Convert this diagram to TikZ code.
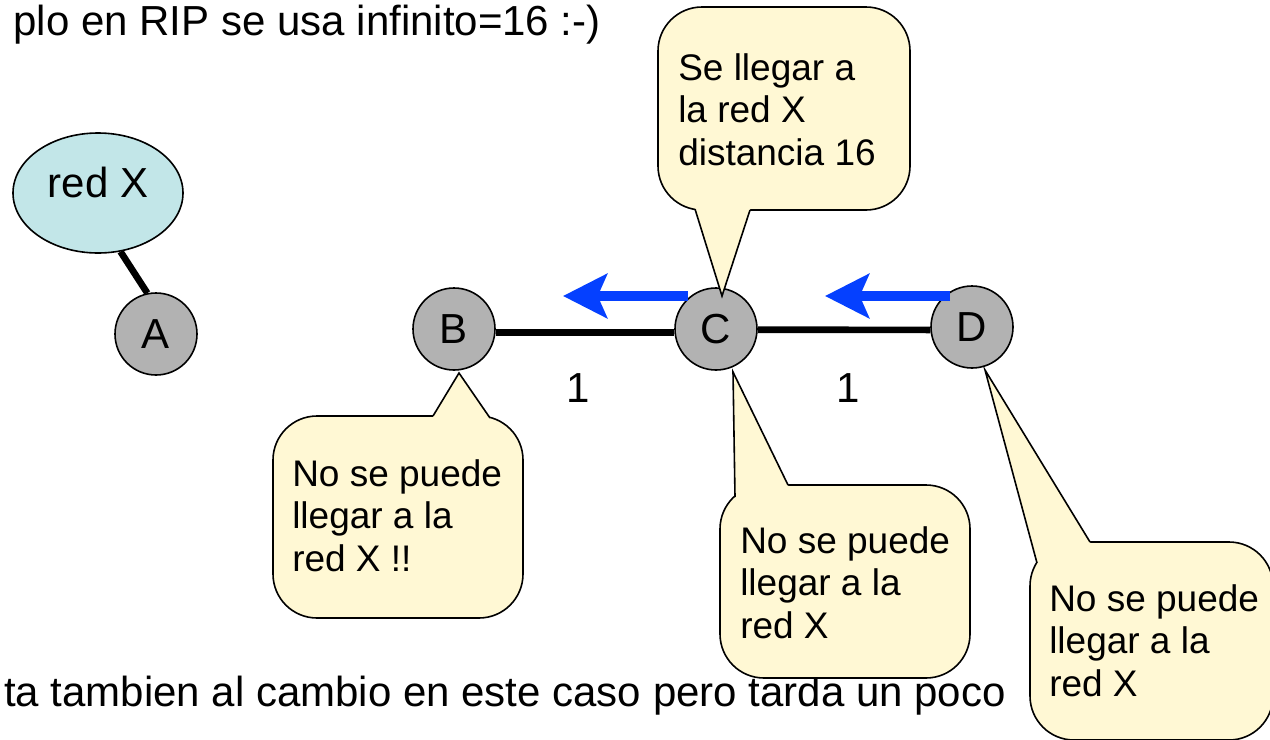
\documentclass[tikz,border=0pt]{standalone}
\usepackage{fontspec}
\setmainfont{Liberation Sans}
\usetikzlibrary{arrows.meta,shapes.geometric}
\definecolor{callfill}{RGB}{255,248,212}
\definecolor{netfill}{RGB}{194,230,232}
\definecolor{nodegray}{RGB}{178,178,178}
\definecolor{flowblue}{RGB}{5,64,255}
\begin{document}
\begin{tikzpicture}[x=0.75pt,y=-0.75pt,
  bigtxt/.style={font=\fontsize{31.5}{36}\selectfont, inner sep=0pt},
  router/.style={circle, draw=black, line width=1.2pt, fill=nodegray, minimum size=61.5pt, inner sep=0pt, font=\fontsize{31.5}{36}\selectfont},
  calltxt/.style={font=\fontsize{27.75}{32}\selectfont, align=left, inner sep=0pt, anchor=north west},
  cbox/.style={draw=black, line width=1.2pt, fill=callfill, rounded corners=33pt},
  cline/.style={draw=black, line width=1.2pt, line join=miter},
  link/.style={draw=black, line width=5pt},
  flow/.style={draw=flowblue, line width=7.5pt, -{Stealth[length=33pt, width=33pt, inset=7pt]}}
]
\useasboundingbox (0,0) rectangle (1270,739);
\clip (0,0) rectangle (1270,739);

% texts
\node[bigtxt, anchor=base east] (title) at (601,35) {plo en RIP se usa infinito=16 :-)};
\node[bigtxt, anchor=base east] (foot) at (1006,706) {ta tambien al cambio en este caso pero tarda un poco};

% network
\node[ellipse, draw=black, line width=1.2pt, fill=netfill, minimum width=127.5pt, minimum height=90pt, inner sep=0pt, font=\fontsize{31.5}{36}\selectfont] (redx) at (98,193) {\raisebox{16pt}{red X}};
\node[router] (A) at (156,334) {A};
\node[router] (B) at (454,329) {B};
\node[router] (C) at (716,329) {C};
\node[router] (D) at (972,327) {D};

\draw[link] (redx.-69) -- (A.102);
\draw[link] (B.-5) -- (C.185);
\draw[link] (C.-1.5) -- (D.184);

\node[bigtxt] (w1) at (578,388) {1};
\node[bigtxt] (w2) at (848,388) {1};

% blue arrows
\coordinate (f1s) at (688,296);
\coordinate (f1e) at (563,296);
\coordinate (f2s) at (950,296);
\coordinate (f2e) at (825,296);
\draw[flow] (f1s) -- (f1e);
\draw[flow] (f2s) -- (f2e);

% callout above C
\draw[cbox] (658,7) rectangle (910,210);
\coordinate (ct1) at (695,209);
\coordinate (ct2) at (750,210);
\coordinate (cttip) at (722,296);
\fill[callfill] (ct1) -- (cttip) -- (ct2) -- ++(0,-7) -- ++(-55,0) -- cycle;
\draw[cline] (ct1) -- (cttip) -- (ct2);
\node[calltxt] (tCtop) at (678,53) {Se llegar a\\la red X\\distancia 16};

% callout below B
\draw[cbox] (273,416) rectangle (523,618);
\coordinate (b1) at (433,416);
\coordinate (b2) at (490,418);
\coordinate (btip) at (459,373);
\fill[callfill] (b1) -- (btip) -- (b2) -- ++(0,7) -- ++(-57,0) -- cycle;
\draw[cline] (b1) -- (btip) -- (b2);
\node[calltxt] (tB) at (292,459) {No se puede\\llegar a la\\red X !!};

% callout below C
\draw[cbox] (720,485) rectangle (970,678);
\coordinate (cb1) at (735,497);
\coordinate (cb2) at (788,485);
\coordinate (cbtip) at (733,372);
\fill[callfill] (cb1) -- (cbtip) -- (cb2) -- ++(0,7) -- (740,503) -- cycle;
\draw[cline] (cb1) -- (cbtip) -- (cb2);
\node[calltxt] (tCbot) at (740,526) {No se puede\\llegar a la\\red X};

% callout below D
\draw[cbox] (1030,542) rectangle (1273,740);
\coordinate (d1) at (1037,563);
\coordinate (d2) at (1090,542);
\coordinate (dtip) at (985,370);
\fill[callfill] (d1) -- (dtip) -- (d2) -- ++(0,7) -- (1045,568) -- cycle;
\draw[cline] (d1) -- (dtip) -- (d2);
\node[calltxt] (tD) at (1049,584) {No se puede\\llegar a la\\red X};
\end{tikzpicture}
\end{document}
